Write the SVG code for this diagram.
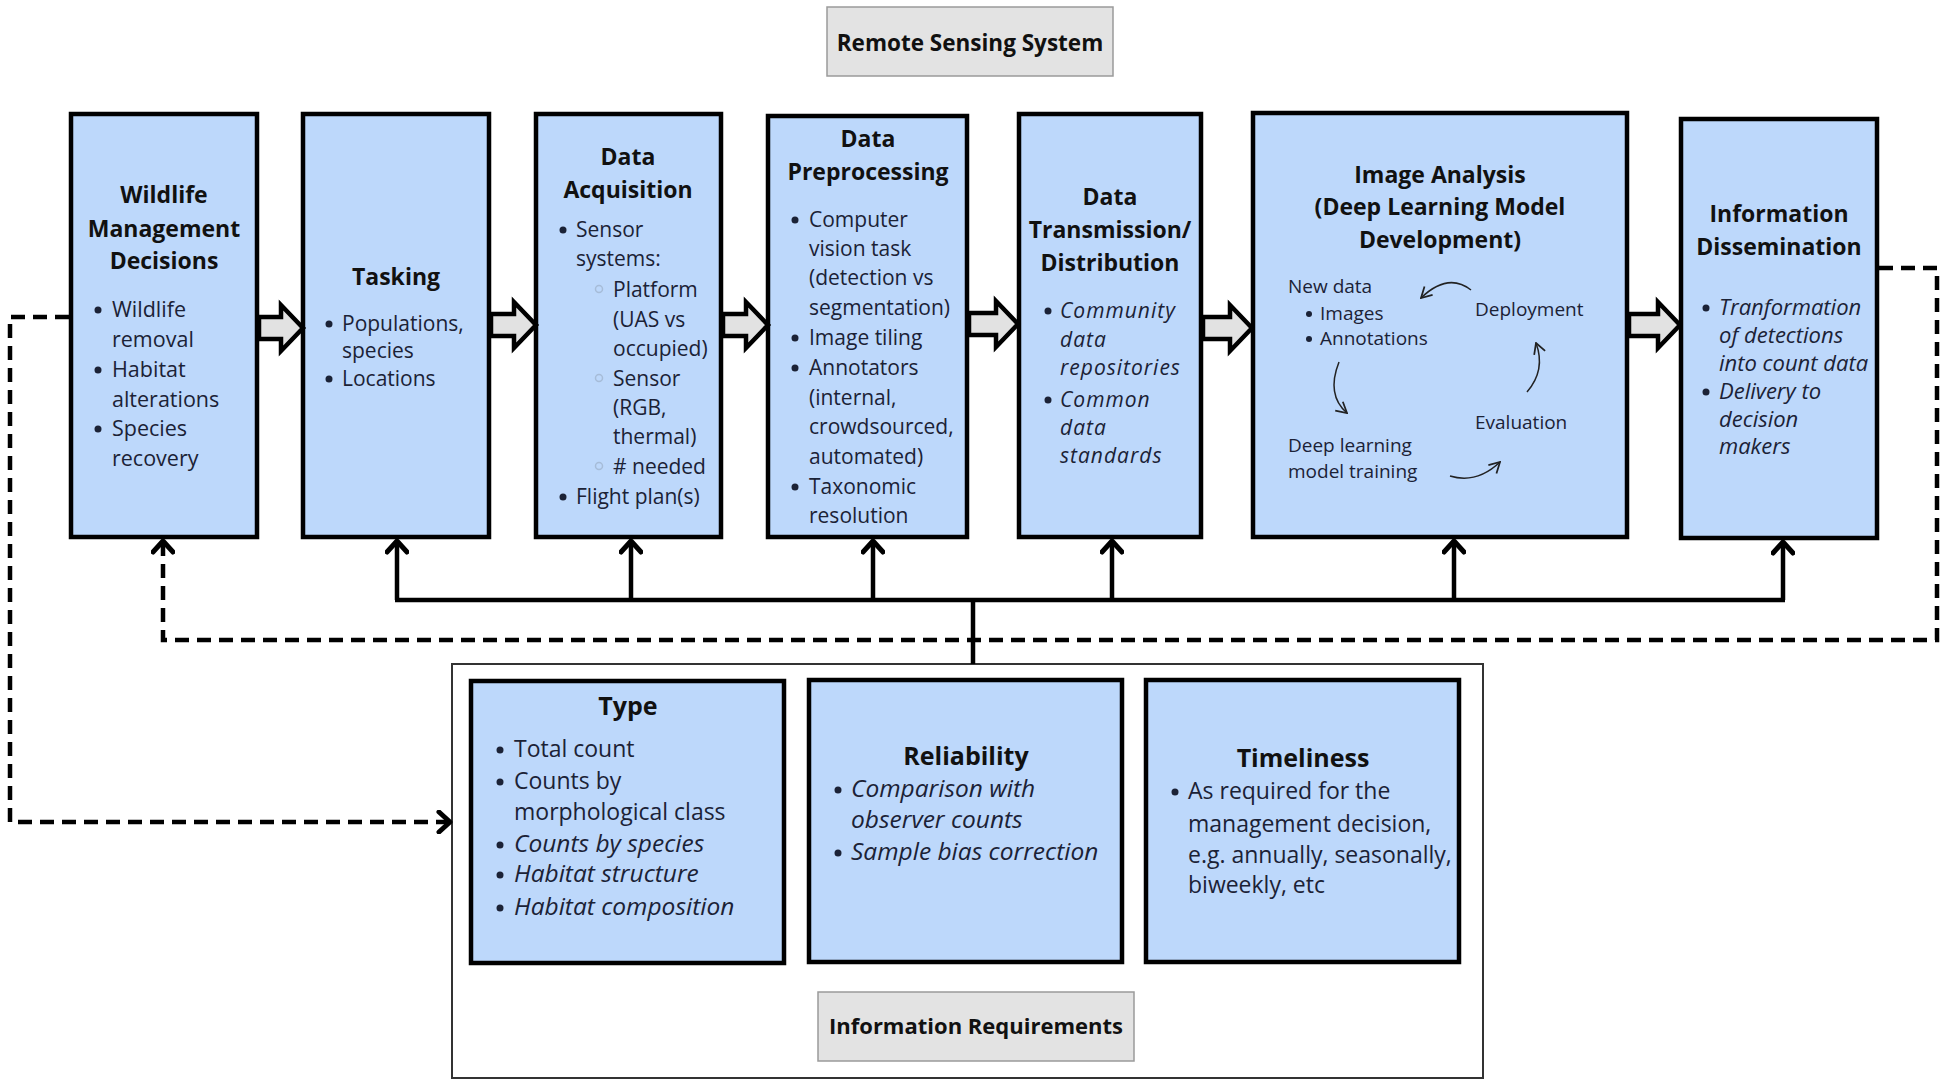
<svg xmlns="http://www.w3.org/2000/svg" width="1949" height="1087" viewBox="0 0 1949 1087">
<style>
.box{fill:#bdd8fb;stroke:#000;stroke-width:4.5}
.lbl{fill:#e3e3e3;stroke:#9a9a9a;stroke-width:1.5}
.h{font-family:"Open Sans","Liberation Sans",sans-serif;font-weight:700;font-size:23px;fill:#111;text-anchor:middle}
.t{font-family:"Open Sans","Liberation Sans",sans-serif;font-size:21px;fill:#1b2236}
.ti{font-family:"Open Sans","Liberation Sans",sans-serif;font-size:22px;font-style:italic;fill:#1b2236}
.tr{font-family:"Open Sans","Liberation Sans",sans-serif;font-size:21px;font-style:italic;letter-spacing:1px;fill:#1b2236}
.b{font-family:"Open Sans","Liberation Sans",sans-serif;font-size:23px;fill:#1b2236}
.bi{font-family:"Open Sans","Liberation Sans",sans-serif;font-size:24.5px;font-style:italic;fill:#1b2236}
.c{font-family:"Open Sans","Liberation Sans",sans-serif;font-size:19px;fill:#1b2236}
.dot{fill:#1b2236}
.sub{fill:none;stroke:#a6bcd8;stroke-width:1.5}
.blk{fill:#e2e2e2;stroke:#000;stroke-width:4.5;stroke-linejoin:miter}
.solid{fill:none;stroke:#000;stroke-width:4.5;marker-end:url(#chev)}
.plain{fill:none;stroke:#000;stroke-width:4.5}
.dash{fill:none;stroke:#000;stroke-width:4.5;stroke-dasharray:14 8}
.cyc{fill:none;stroke:#222;stroke-width:1.5;marker-end:url(#thin)}
</style>
<defs>
<marker id="chev" viewBox="0 0 24 24" refX="20" refY="12" markerWidth="24" markerHeight="24" markerUnits="userSpaceOnUse" orient="auto">
<path d="M9,2 L20,12 L9,22" fill="none" stroke="#000" stroke-width="5" stroke-linecap="round" stroke-linejoin="round" stroke-dasharray="none"/>
</marker>
<marker id="thin" viewBox="0 0 12 12" refX="11" refY="6" markerWidth="14" markerHeight="14" markerUnits="userSpaceOnUse" orient="auto">
<path d="M2,1 L11,6 L2,11" fill="none" stroke="#222" stroke-width="1.5"/>
</marker>
</defs>
<rect width="1949" height="1087" fill="#fff"/>

<g id="remote-sensing-system">
<rect class="lbl" x="827" y="7" width="286" height="69"/>
<text class="h" x="970" y="51" style="font-size:22.5px">Remote Sensing System</text>
</g>

<g id="wildlife-management">
<rect class="box" x="71" y="114" width="186" height="423"/>
<text class="h" x="164" y="203">Wildlife</text>
<text class="h" x="164" y="237">Management</text>
<text class="h" x="164" y="269">Decisions</text>
<circle class="dot" cx="98" cy="310" r="3.5"/><text class="t" x="112" y="317" style="font-size:21.5px">Wildlife</text>
<text class="t" x="112" y="347" style="font-size:21.5px">removal</text>
<circle class="dot" cx="98" cy="370" r="3.5"/><text class="t" x="112" y="377" style="font-size:21.5px">Habitat</text>
<text class="t" x="112" y="407" style="font-size:21.5px">alterations</text>
<circle class="dot" cx="98" cy="429" r="3.5"/><text class="t" x="112" y="436" style="font-size:21.5px">Species</text>
<text class="t" x="112" y="466" style="font-size:21.5px">recovery</text>
</g>

<g id="tasking">
<rect class="box" x="303" y="114" width="186" height="423"/>
<text class="h" x="396" y="285">Tasking</text>
<circle class="dot" cx="329" cy="324" r="3.5"/><text class="t" x="342" y="331">Populations,</text>
<text class="t" x="342" y="358">species</text>
<circle class="dot" cx="329" cy="379" r="3.5"/><text class="t" x="342" y="386">Locations</text>
</g>

<g id="data-acquisition">
<rect class="box" x="536" y="114" width="185" height="423"/>
<text class="h" x="628" y="165">Data</text>
<text class="h" x="628" y="198">Acquisition</text>
<circle class="dot" cx="563" cy="230" r="3.5"/><text class="t" x="576" y="237">Sensor</text>
<text class="t" x="576" y="266">systems:</text>
<circle class="sub" cx="599" cy="289" r="3.5"/><text class="t" x="613" y="297">Platform</text>
<text class="t" x="613" y="327">(UAS vs</text>
<text class="t" x="613" y="356">occupied)</text>
<circle class="sub" cx="599" cy="378" r="3.5"/><text class="t" x="613" y="386">Sensor</text>
<text class="t" x="613" y="415">(RGB,</text>
<text class="t" x="613" y="444">thermal)</text>
<circle class="sub" cx="599" cy="466" r="3.5"/><text class="t" x="613" y="474"># needed</text>
<circle class="dot" cx="563" cy="497" r="3.5"/><text class="t" x="576" y="504">Flight plan(s)</text>
</g>

<g id="data-preprocessing">
<rect class="box" x="768" y="116" width="199" height="421"/>
<text class="h" x="868" y="147">Data</text>
<text class="h" x="868" y="180">Preprocessing</text>
<circle class="dot" cx="795" cy="220" r="3.5"/><text class="t" x="809" y="227">Computer</text>
<text class="t" x="809" y="256">vision task</text>
<text class="t" x="809" y="285">(detection vs</text>
<text class="t" x="809" y="315">segmentation)</text>
<circle class="dot" cx="795" cy="338" r="3.5"/><text class="t" x="809" y="345">Image tiling</text>
<circle class="dot" cx="795" cy="368" r="3.5"/><text class="t" x="809" y="375">Annotators</text>
<text class="t" x="809" y="405">(internal,</text>
<text class="t" x="809" y="434">crowdsourced,</text>
<text class="t" x="809" y="464">automated)</text>
<circle class="dot" cx="795" cy="487" r="3.5"/><text class="t" x="809" y="494">Taxonomic</text>
<text class="t" x="809" y="523">resolution</text>
</g>

<g id="data-transmission">
<rect class="box" x="1019" y="114" width="182" height="423"/>
<text class="h" x="1110" y="205">Data</text>
<text class="h" x="1110" y="238">Transmission/</text>
<text class="h" x="1110" y="271">Distribution</text>
<circle class="dot" cx="1048" cy="311" r="3.5"/><text class="tr" x="1060" y="318">Community</text>
<text class="tr" x="1060" y="347">data</text>
<text class="tr" x="1060" y="375">repositories</text>
<circle class="dot" cx="1048" cy="400" r="3.5"/><text class="tr" x="1060" y="407">Common</text>
<text class="tr" x="1060" y="435">data</text>
<text class="tr" x="1060" y="463">standards</text>
</g>

<g id="image-analysis">
<rect class="box" x="1253" y="113" width="374" height="424"/>
<text class="h" x="1440" y="183">Image Analysis</text>
<text class="h" x="1440" y="215">(Deep Learning Model</text>
<text class="h" x="1440" y="248">Development)</text>
<text class="c" x="1288" y="293">New data</text>
<circle class="dot" cx="1309" cy="314" r="3"/><text class="c" x="1320" y="320">Images</text>
<circle class="dot" cx="1309" cy="339" r="3"/><text class="c" x="1320" y="345">Annotations</text>
<text class="c" x="1475" y="316">Deployment</text>
<text class="c" x="1475" y="429">Evaluation</text>
<text class="c" x="1288" y="452">Deep  learning</text>
<text class="c" x="1288" y="478">model training</text>
<path class="cyc" d="M1471,290 Q1448,272 1421,298"/>
<path class="cyc" d="M1339,362 Q1326,395 1347,413"/>
<path class="cyc" d="M1450,476 Q1477,484 1500,462"/>
<path class="cyc" d="M1527,392 Q1546,370 1536,343"/>
</g>

<g id="information-dissemination">
<rect class="box" x="1681" y="119" width="196" height="419"/>
<text class="h" x="1779" y="222">Information</text>
<text class="h" x="1779" y="255">Dissemination</text>
<circle class="dot" cx="1706" cy="308" r="3.5"/><text class="ti" x="1719" y="315">Tranformation</text>
<text class="ti" x="1719" y="343">of detections</text>
<text class="ti" x="1719" y="371">into count data</text>
<circle class="dot" cx="1706" cy="392" r="3.5"/><text class="ti" x="1719" y="399">Delivery to</text>
<text class="ti" x="1719" y="427">decision</text>
<text class="ti" x="1719" y="454">makers</text>
</g>

<g id="information-requirements">
<rect x="452" y="664" width="1031" height="414" fill="#fff" stroke="#333" stroke-width="2"/>
<rect class="lbl" x="818" y="992" width="316" height="69"/>
<text class="h" x="976" y="1034" style="font-size:22px">Information Requirements</text>
</g>

<g id="type">
<rect class="box" x="471" y="681" width="313" height="282"/>
<text class="h" x="628" y="715" style="font-size:25px">Type</text>
<circle class="dot" cx="500" cy="750" r="3.5"/><text class="b" x="514" y="757">Total count</text>
<circle class="dot" cx="500" cy="782" r="3.5"/><text class="b" x="514" y="789">Counts by</text>
<text class="b" x="514" y="820">morphological class</text>
<circle class="dot" cx="500" cy="845" r="3.5"/><text class="bi" x="514" y="852">Counts by species</text>
<circle class="dot" cx="500" cy="875" r="3.5"/><text class="bi" x="514" y="882">Habitat structure</text>
<circle class="dot" cx="500" cy="908" r="3.5"/><text class="bi" x="514" y="915">Habitat composition</text>
</g>

<g id="reliability">
<rect class="box" x="809" y="680" width="313" height="282"/>
<text class="h" x="966" y="765" style="font-size:25px">Reliability</text>
<circle class="dot" cx="838" cy="790" r="3.5"/><text class="bi" x="851" y="797">Comparison with</text>
<text class="bi" x="851" y="828">observer counts</text>
<circle class="dot" cx="838" cy="853" r="3.5"/><text class="bi" x="851" y="860">Sample bias correction</text>
</g>

<g id="timeliness">
<rect class="box" x="1146" y="680" width="313" height="282"/>
<text class="h" x="1303" y="767" style="font-size:25px">Timeliness</text>
<circle class="dot" cx="1175" cy="792" r="3.5"/><text class="b" x="1188" y="799">As required for the</text>
<text class="b" x="1188" y="832">management decision,</text>
<text class="b" x="1188" y="863">e.g. annually, seasonally,</text>
<text class="b" x="1188" y="893">biweekly, etc</text>
</g>

<g id="connectors">
<polygon class="blk" points="259,317 281,317 281,305 303,328 281,351 281,339 259,339"/>
<polygon class="blk" points="491,314 514,314 514,302 536,325 514,348 514,336 491,336"/>
<polygon class="blk" points="723,314 746,314 746,302 768,325 746,348 746,336 723,336"/>
<polygon class="blk" points="969,313 996,313 996,301 1018,324 996,347 996,335 969,335"/>
<polygon class="blk" points="1203,317 1230,317 1230,305 1252,328 1230,351 1230,339 1203,339"/>
<polygon class="blk" points="1629,314 1658,314 1658,302 1680,325 1658,348 1658,336 1629,336"/>
<path class="plain" d="M395,600 L1785,600"/>
<path class="plain" d="M973,600 L973,664"/>
<path class="solid" d="M397,600 L397,541"/>
<path class="solid" d="M631,600 L631,541"/>
<path class="solid" d="M873,600 L873,541"/>
<path class="solid" d="M1112,600 L1112,541"/>
<path class="solid" d="M1454,600 L1454,541"/>
<path class="solid" d="M1783,600 L1783,542"/>
<path class="dash" d="M1879,268 L1937,268 L1937,640 L163,640 L163,541" marker-end="url(#chev)"/>
<path class="dash" d="M69,317 L10,317 L10,822 L450,822" marker-end="url(#chev)"/>
</g>
</svg>
